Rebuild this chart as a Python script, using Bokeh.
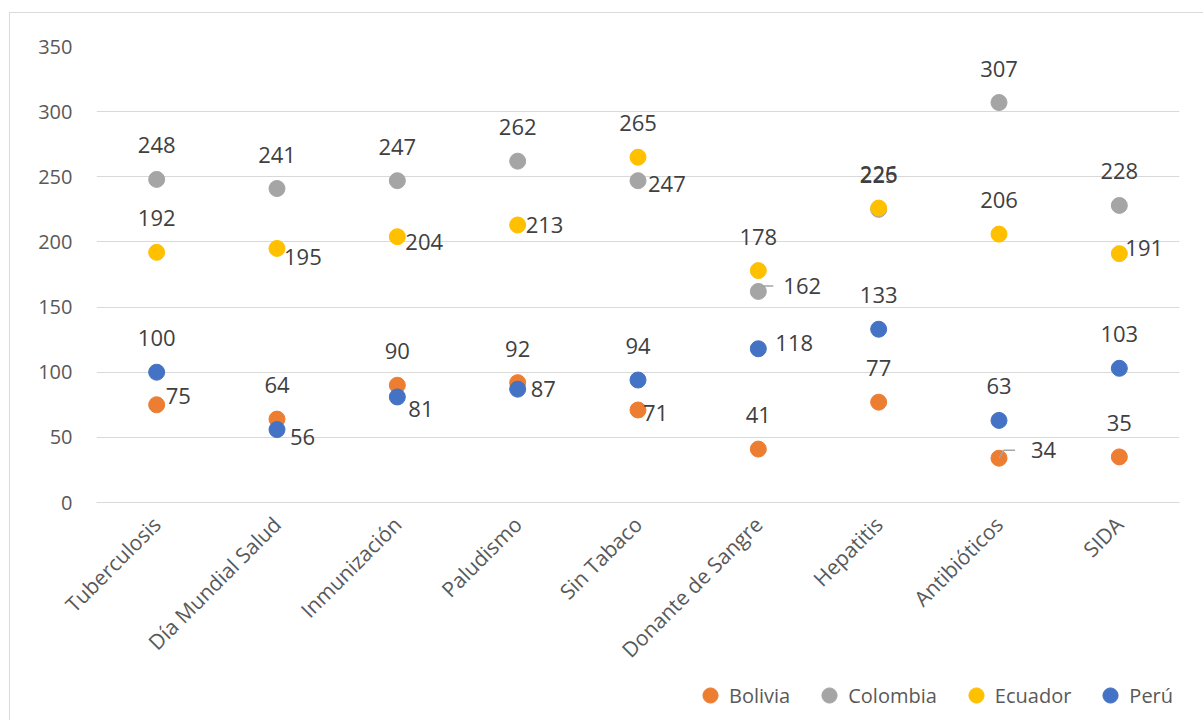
import math
from bokeh.plotting import figure
from bokeh.layouts import column
from bokeh.models import Range1d, FixedTicker, Legend, LegendItem, ColumnDataSource
from bokeh.core.properties import value
from bokeh.embed import file_html
from bokeh.resources import INLINE

# ---------------- data ----------------
categories = ["Tuberculosis", "Día Mundial Salud", "Inmunización", "Paludismo",
              "Sin Tabaco", "Donante de Sangre", "Hepatitis", "Antibióticos", "SIDA"]
bolivia = [75, 64, 90, 92, 71, 41, 77, 34, 35]
colombia = [248, 241, 247, 262, 247, 162, 225, 307, 228]
ecuador = [192, 195, 204, 213, 265, 178, 226, 206, 191]
peru = [100, 56, 81, 87, 94, 118, 133, 63, 103]
y_ticks = [0, 50, 100, 150, 200, 250, 300, 350]

series_names = ["Bolivia", "Colombia", "Ecuador", "Perú"]
series_values = [bolivia, colombia, ecuador, peru]
series_colors = ["#ED7D31", "#A5A5A5", "#FFC000", "#4472C4"]

# ---------------- label placement (screen px), default: above ----------------
ABOVE = (0, -34)
label_right = {
    ("Bolivia", 0): (9, -9), ("Bolivia", 4): (5, 3), ("Bolivia", 7): (32, -8),
    ("Colombia", 4): (10, 3), ("Colombia", 5): (25, -5),
    ("Ecuador", 1): (7, 9), ("Ecuador", 2): (8, 5), ("Ecuador", 3): (8, 0), ("Ecuador", 8): (6, -6),
    ("Perú", 1): (13, 7), ("Perú", 2): (11, 12), ("Perú", 3): (13, 0), ("Perú", 5): (17, -6),
}

FONT = "Open Sans"
W, H = 1193, 663
LEG_H = 44
FL, FR, FT, FB = 86, 24, 33, 174   # frame borders inside main figure

p = figure(width=W, height=H, output_backend="svg", toolbar_location=None,
           x_range=Range1d(0, len(categories)), y_range=Range1d(0, 350),
           min_border_left=FL, min_border_right=FR, min_border_top=FT, min_border_bottom=FB,
           outline_line_color=None)

xs = [i + 0.5 for i in range(len(categories))]

frame_w = W - FL - FR
frame_h = H - FT - FB
px_x = len(categories) / frame_w
px_y = 350 / frame_h

for name, vals, col in zip(series_names, series_values, series_colors):
    p.scatter(xs, vals, size=16, color=col, line_color=col)

# leader lines
for (name, idx, pts) in [("Colombia", 5, [(2, 5.5), (15, 5.5)]),
                          ("Bolivia", 7, [(0, 0), (5, 8), (16, 8)])]:
    v = series_values[series_names.index(name)][idx]
    lx = [xs[idx] + dx * px_x for dx, dy in pts]
    ly = [v + dy * px_y for dx, dy in pts]
    p.line(lx, ly, line_color="#A5A5A5", line_width=1.5)

# data labels
ax, ay, atxt, axo, ayo = [], [], [], [], []
rx, ry, rtxt, rxo, ryo = [], [], [], [], []
for name, vals in zip(series_names, series_values):
    for i, v in enumerate(vals):
        if (name, i) in label_right:
            dx, dy = label_right[(name, i)]
            rx.append(xs[i]); ry.append(v); rtxt.append(str(v)); rxo.append(dx); ryo.append(dy)
        else:
            ax.append(xs[i]); ay.append(v); atxt.append(str(v)); axo.append(ABOVE[0]); ayo.append(ABOVE[1])

src_a = ColumnDataSource(dict(x=ax, y=ay, t=atxt, xo=axo, yo=ayo))
src_r = ColumnDataSource(dict(x=rx, y=ry, t=rtxt, xo=rxo, yo=ryo))
p.text(x="x", y="y", text="t", x_offset="xo", y_offset="yo", source=src_a,
       text_align="center", text_baseline="middle", text_font=value(FONT),
       text_font_size="22px", text_color="#404040")
p.text(x="x", y="y", text="t", x_offset="xo", y_offset="yo", source=src_r,
       text_align="left", text_baseline="middle", text_font=value(FONT),
       text_font_size="22px", text_color="#404040")

# axes
p.xaxis.ticker = FixedTicker(ticks=xs)
p.xaxis.major_label_overrides = {x: c for x, c in zip(xs, categories)}
p.xaxis.major_label_orientation = math.pi / 4
p.xaxis.major_tick_out = 0
p.xaxis.major_tick_in = 0
p.xaxis.minor_tick_line_color = None
p.xaxis.axis_line_color = "#D9D9D9"
p.xaxis.major_label_standoff = 18
p.xaxis.major_label_text_font = FONT
p.xaxis.major_label_text_font_size = "21px"
p.xaxis.major_label_text_color = "#595959"

p.yaxis.ticker = FixedTicker(ticks=y_ticks)
p.yaxis.major_tick_out = 0
p.yaxis.major_tick_in = 0
p.yaxis.minor_tick_line_color = None
p.yaxis.axis_line_color = None
p.yaxis.major_label_standoff = 24
p.yaxis.major_label_text_font = FONT
p.yaxis.major_label_text_font_size = "20px"
p.yaxis.major_label_text_color = "#595959"

p.xgrid.grid_line_color = None
p.ygrid.ticker = FixedTicker(ticks=y_ticks)
p.ygrid.grid_line_color = "#D9D9D9"
p.ygrid.grid_line_width = 1

# ---------------- legend strip ----------------
lg = figure(width=W, height=LEG_H, output_backend="svg", toolbar_location=None,
            x_range=Range1d(0, 1), y_range=Range1d(0, 1),
            x_axis_type=None, y_axis_type=None, outline_line_color=None,
            min_border_left=0, min_border_right=0, min_border_top=0, min_border_bottom=0)
lg.xgrid.grid_line_color = None
lg.ygrid.grid_line_color = None
items = []
for name, col in zip(series_names, series_colors):
    # off-range placeholder point, only so the legend draws the series marker
    r = lg.scatter([-1], [-1], size=16, color=col, line_color=col)
    items.append(LegendItem(label=name, renderers=[r]))
legend = Legend(items=items, orientation="horizontal", location=(595, 6),
                glyph_width=38, glyph_height=38, label_standoff=0, spacing=20,
                padding=0, margin=0, border_line_color=None,
                background_fill_alpha=0,
                label_text_font=FONT, label_text_font_size="20px",
                label_text_color="#595959")
lg.add_layout(legend)

root = column(p, lg, spacing=0,
              styles={"margin-left": "9px", "margin-top": "12px",
                      "border-left": "1px solid #D9D9D9", "border-top": "1px solid #D9D9D9"})

open("out.html", "w").write(file_html(root, INLINE))
